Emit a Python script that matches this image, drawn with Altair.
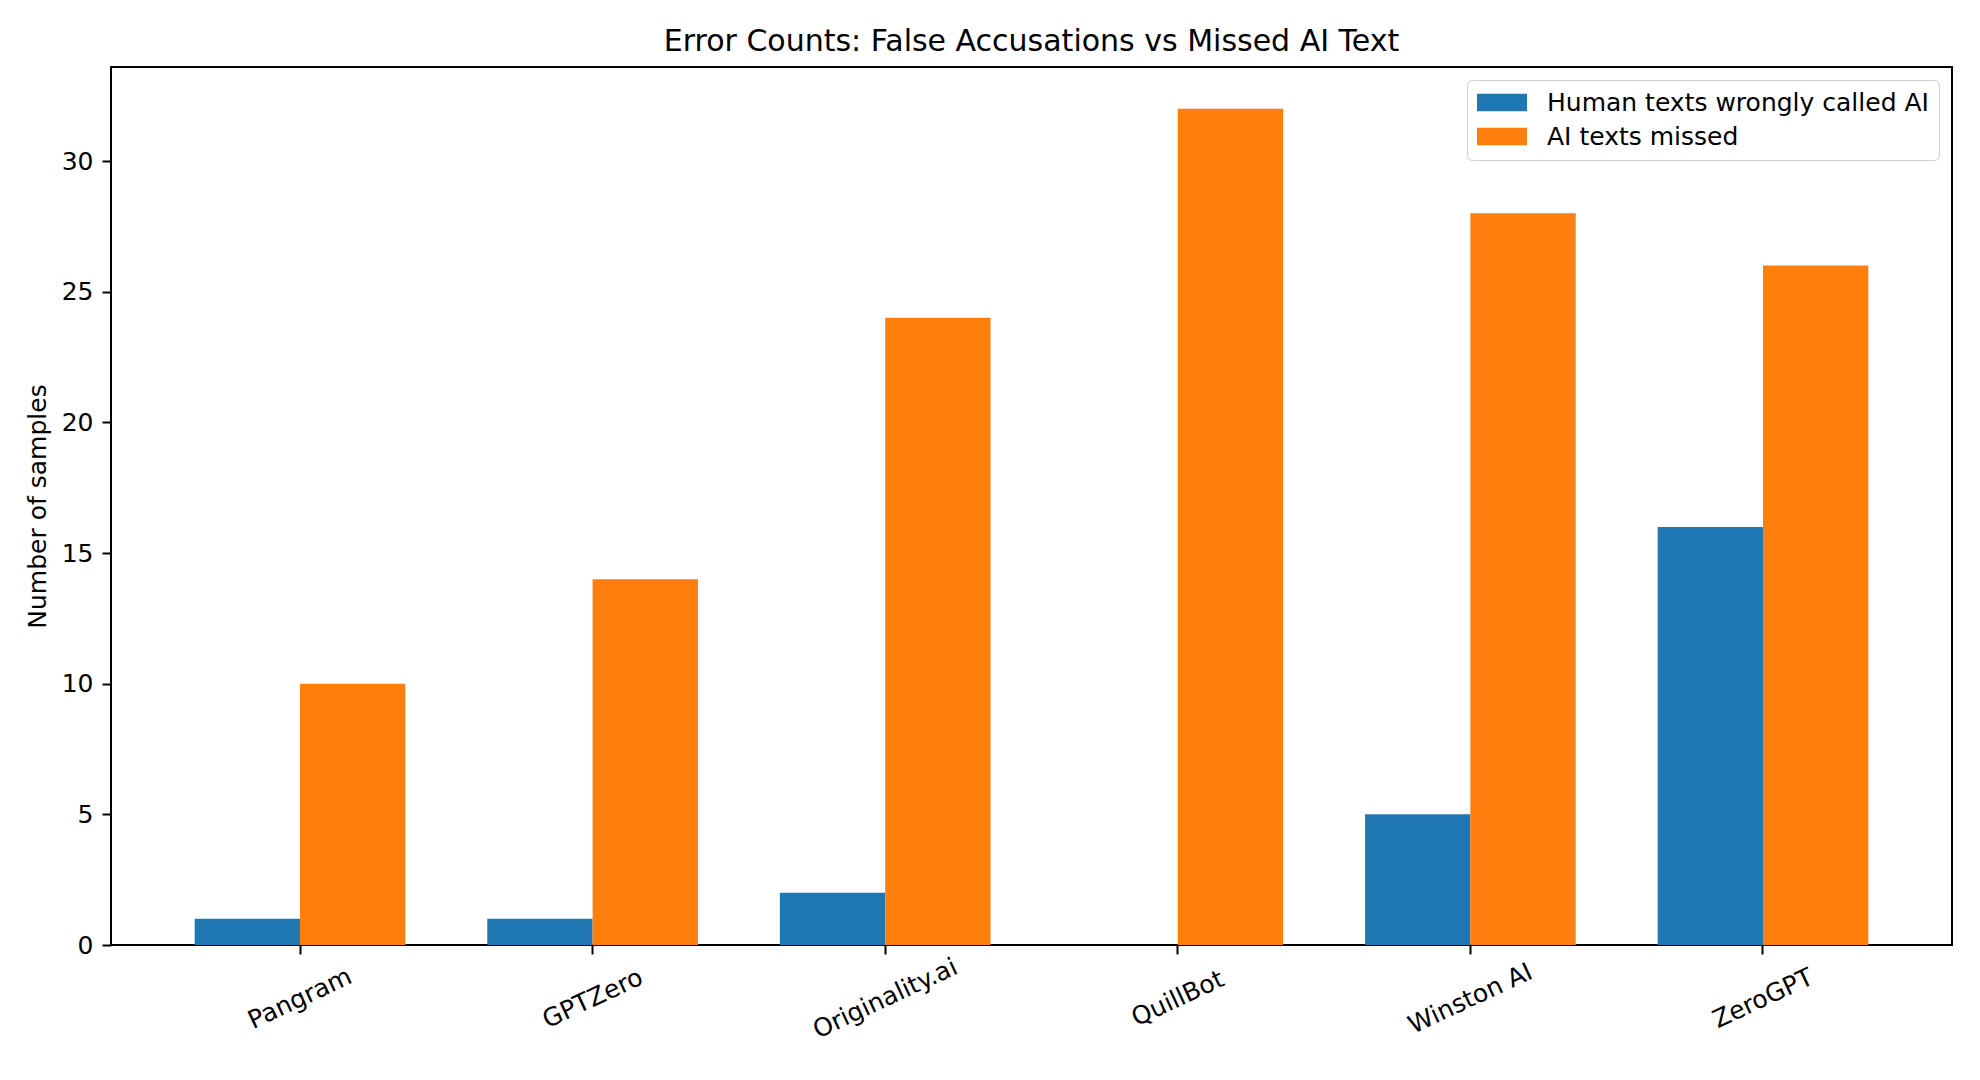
import altair as alt
import pandas as pd

detectors = ["Pangram", "GPTZero", "Originality.ai", "QuillBot", "Winston AI", "ZeroGPT"]
false_accusations = [1, 1, 2, 0, 5, 16]
missed_ai = [10, 14, 24, 32, 28, 26]
series = ["Human texts wrongly called AI", "AI texts missed"]
colors = ["#1f77b4", "#ff7f0e"]
y_ticks = [0, 5, 10, 15, 20, 25, 30]

df = pd.DataFrame({
    "detector": detectors * 2,
    "series": [series[0]] * len(detectors) + [series[1]] * len(detectors),
    "count": false_accusations + missed_ai,
})

font = "DejaVu Sans"

chart = alt.Chart(df).mark_bar().encode(
    x=alt.X(
        "detector:N",
        sort=detectors,
        scale=alt.Scale(paddingInner=0.28, paddingOuter=0.286),
        axis=alt.Axis(
            title=None, labelAngle=335, labelAlign="center", labelBaseline="middle",
            labelPadding=44, labelFontSize=25, labelFont=font, labelColor="black",
            tickSize=9, tickWidth=2, tickColor="black", domain=False,
        ),
    ),
    xOffset=alt.XOffset("series:N", sort=series,
                        scale=alt.Scale(paddingInner=0, paddingOuter=0)),
    y=alt.Y(
        "count:Q",
        scale=alt.Scale(domain=[0, 33.6], nice=False),
        axis=alt.Axis(
            values=y_ticks, title="Number of samples", grid=False, domain=False,
            labelFontSize=25, labelFont=font, labelColor="black", labelPadding=9,
            tickSize=9, tickWidth=2, tickColor="black",
            titleFont=font, titleFontSize=25, titleFontWeight="normal",
            titleColor="black", titlePadding=11,
        ),
    ),
    color=alt.Color(
        "series:N",
        sort=series,
        scale=alt.Scale(domain=series, range=colors),
        legend=alt.Legend(
            title=None, orient="none", legendX=1356, legendY=13,
            symbolType="M-1,-0.7L3,-0.7L3,0.7L-1,0.7Z", symbolSize=625,
            symbolStrokeWidth=0, symbolOpacity=1, labelOffset=45,
            labelFont=font, labelFontSize=25, labelColor="black", labelLimit=500,
            rowPadding=8, padding=10, strokeColor="#cccccc", cornerRadius=5,
            fillColor="rgba(255,255,255,0.8)",
        ),
    ),
).properties(
    width=1841,
    height=878,
    title=alt.Title(
        "Error Counts: False Accusations vs Missed AI Text",
        font=font, fontSize=30, fontWeight="normal", color="black",
        anchor="middle", frame="group", offset=10,
    ),
    padding={"left": 17, "top": 19, "right": 5, "bottom": 5},
).configure_view(
    stroke="black", strokeWidth=2
)

chart.save("out.html", embed_options={"renderer": "svg", "actions": False})
